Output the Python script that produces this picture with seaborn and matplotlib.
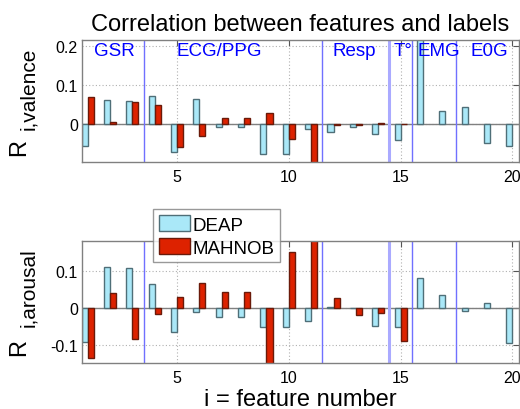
import numpy as np
import pandas as pd
import matplotlib
matplotlib.use('Agg')
import matplotlib.pyplot as plt
import seaborn as sns

sns.set_style('white')
plt.rcParams['font.family'] = ['Liberation Sans', 'DejaVu Sans']
plt.rcParams['text.color'] = 'black'
plt.rcParams['xtick.color'] = 'black'
plt.rcParams['ytick.color'] = 'black'
plt.rcParams['axes.labelcolor'] = 'black'

features = list(range(1, 21))
valence_deap = [-0.057, 0.061, 0.058, 0.070, -0.074, 0.063, -0.009, -0.009, -0.077, -0.079,
                -0.014, -0.021, -0.009, -0.026, -0.043, 0.30, 0.031, 0.042, -0.049, -0.057]
valence_mahnob = [0.068, 0.003, 0.055, 0.048, -0.059, -0.031, 0.015, 0.014, 0.028, -0.040,
                  -0.13, -0.003, -0.003, 0.002, -0.001, None, None, None, None, None]
arousal_deap = [-0.090, 0.109, 0.107, 0.065, -0.065, -0.010, -0.023, -0.023, -0.052, -0.050,
                -0.036, 0.003, 0.0, -0.047, -0.052, 0.081, 0.036, -0.009, 0.014, -0.095]
arousal_mahnob = [-0.135, 0.041, -0.082, -0.017, 0.030, 0.068, 0.042, 0.042, -0.17, 0.149,
                  0.20, 0.028, -0.018, -0.014, -0.089, None, None, None, None, None]
datasets = ['DEAP', 'MAHNOB']
colors = ['#aae8f8', '#dd2200']
edges = ['#4f6f78', '#6a1a0a']

groups = ['GSR', 'ECG/PPG', 'Resp', 'T°', 'EMG', 'E0G']
group_x = [2.18, 6.9, 12.92, 15.1, 16.72, 18.96]
separators = [3.5, 11.5, 14.5, 15.5, 17.5]


def long_df(deap, mahnob):
    return pd.DataFrame({
        'feature': features * 2,
        'r': [np.nan if v is None else v for v in deap + mahnob],
        'dataset': ['DEAP'] * 20 + ['MAHNOB'] * 20,
    }).dropna()


def style_axes(ax, ylim, yticks):
    ax.set_xlim(0.75, 20.3)
    ax.set_ylim(*ylim)
    ax.set_xticks([5, 10, 15, 20])
    ax.set_yticks(yticks)
    ax.set_yticklabels(['0' if t == 0 else f'{t:g}' for t in yticks])
    ax.grid(True, color='#b0b0b0', linestyle=(0, (1, 2)), linewidth=0.8)
    ax.set_axisbelow(True)
    ax.axhline(0, color='#808080', linewidth=1, zorder=1.5)
    for s in separators:
        if s == 14.5:
            ax.axvline(s, color='#aaaaff', linewidth=2.2, zorder=1.6)
        else:
            ax.axvline(s, color='#7070ff', linewidth=1, zorder=1.6)
    for sp in ax.spines.values():
        sp.set_color('#808080')
        sp.set_linewidth(1)
    ax.tick_params(direction='in', length=4, color='#555555', labelsize=11.5,
                   top=True, right=True)
    ax.tick_params(axis='x', pad=5)
    ax.tick_params(axis='y', pad=3)
    ax.set_xlabel('')
    ax.set_ylabel('')


def color_bars(ax):
    for bars, c, e in zip(ax.containers, colors, edges):
        for b in bars:
            b.set_facecolor(c)
            b.set_edgecolor(e)
            b.set_linewidth(1)
            b.set_zorder(2)


fig = plt.figure(figsize=(5.2, 4.1), dpi=100)
ax1 = fig.add_axes([0.158, 0.603, 0.840, 0.2976])
ax2 = fig.add_axes([0.158, 0.1115, 0.840, 0.299])

sns.barplot(data=long_df(valence_deap, valence_mahnob), x='feature', y='r', hue='dataset',
            hue_order=datasets, palette=colors, native_scale=True, width=0.54,
            errorbar=None, legend=False, ax=ax1)
sns.barplot(data=long_df(arousal_deap, arousal_mahnob), x='feature', y='r', hue='dataset',
            hue_order=datasets, palette=colors, native_scale=True, width=0.54,
            errorbar=None, ax=ax2)
color_bars(ax1)
color_bars(ax2)

style_axes(ax1, (-0.098, 0.215), [0, 0.1, 0.2])
style_axes(ax2, (-0.148, 0.18), [-0.1, 0, 0.1])

for g, x in zip(groups, group_x):
    ax1.text(x, 0.188, g, color='#0000ff', fontsize=13.5, ha='center', va='center')

ax1.set_title('Correlation between features and labels', fontsize=17, pad=7)
ax2.set_xlabel('i = feature number', fontsize=17, labelpad=2)

fig.text(19 / 520, 1 - 148 / 410, 'R', rotation=90, fontsize=17, ha='center', va='center')
fig.text(28.5 / 520, 1 - 89 / 410, 'i,valence', rotation=90, fontsize=15, ha='center', va='center')
fig.text(19 / 520, 1 - 348 / 410, 'R', rotation=90, fontsize=17, ha='center', va='center')
fig.text(28.5 / 520, 1 - 288 / 410, 'i,arousal', rotation=90, fontsize=15, ha='center', va='center')

sns.move_legend(ax2, 'upper left', bbox_to_anchor=(0.163, 1.255), title=None, frameon=True,
                fontsize=13.5, fancybox=False, handlelength=1.65, handleheight=0.95,
                handletextpad=0.15, borderpad=0.3, labelspacing=0.25, borderaxespad=0)
leg = ax2.get_legend()
leg.get_frame().set_edgecolor('#808080')
leg.get_frame().set_linewidth(1)
for h, c, e in zip(leg.legend_handles, colors, edges):
    h.set_facecolor(c)
    h.set_edgecolor(e)

fig.savefig('out.png', dpi=100)
